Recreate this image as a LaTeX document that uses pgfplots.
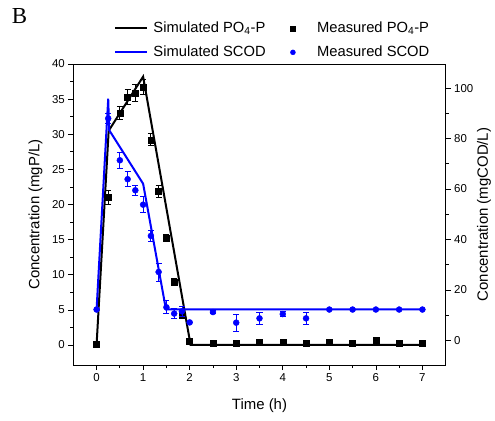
\documentclass[border=0pt]{standalone}
\usepackage{pgfplots}
\pgfplotsset{compat=1.18}
\usepackage{pgfplotstable}
\usepackage{fontspec}
\setmainfont{Liberation Sans}
\newfontfamily\serifB{Liberation Serif}
\definecolor{pblue}{RGB}{0,0,255}

\pgfplotstableread{
x y e
0 0.1 0
0.25 21.0 1.0
0.5 33.0 0.9
0.667 35.3 1.05
0.833 35.9 1.2
1.0 36.7 1.05
1.167 29.2 0.85
1.333 21.9 0.85
1.5 15.2 0.5
1.667 9.0 0.5
1.833 4.3 0.4
2.0 0.5 0
2.5 0.25 0
3 0.2 0
3.5 0.35 0.1
4 0.35 0.1
4.5 0.3 0.1
5 0.45 0.1
5.5 0.25 0
6 0.7 0.1
6.5 0.25 0
7 0.2 0
}\measP

\pgfplotstableread{
x y e
0 12.2 0
0.25 88.0 2
0.5 71.4 3.1
0.667 63.9 3.0
0.833 59.5 2.1
1.0 53.8 3.2
1.167 41.4 2.3
1.333 27.1 3.6
1.5 13.1 2.6
1.667 10.6 2.1
1.833 11.5 2.0
2.0 7.1 0
2.5 11.2 0.5
3 7.0 3.4
3.5 8.7 2.3
4 10.4 1
4.5 8.7 2.3
5 12.2 0
5.5 12.2 0
6 12.2 0
6.5 12.2 0
7 12.2 0
}\measC

\pgfplotstableread{
x y
0 0
0.26 30.5
1.0 38.2
2.02 0
7 0
}\simP

\pgfplotstableread{
x y
0 12.2
0.25 95.8
0.27 83.4
1.0 62.1
1.49 12.3
7 12.3
}\simC

\pgfplotsset{
  common/.style={
    scale only axis, width=372.4bp, height=301bp,
    xmin=-0.5, xmax=7.5,
    tick align=outside,
    major tick length=5bp, minor tick length=3bp,
    every tick/.style={black, line width=0.7bp},
    axis line style={black, line width=0.8bp},
    tick label style={font=\fontsize{11.5}{13}\selectfont},
    label style={font=\fontsize{15}{17}\selectfont},
    /pgf/number format/assume math mode=true,
    clip=false,
  },
  legend image code/.code={\path (0bp,0bp) (32bp,0bp);\draw[mark repeat=2,mark phase=2,#1] plot coordinates {(0bp,0bp) (16bp,0bp) (32bp,0bp)};},
}

\begin{document}
\begin{tikzpicture}
\path[use as bounding box] (-73.3bp,-56bp) rectangle (421.7bp,365bp);
\begin{axis}[common,
  ymin=-2.85, ymax=40,
  xtick={0,...,7}, minor x tick num=1,
  ytick={0,5,...,40}, minor y tick num=1,
  xtick pos=left, ytick pos=left,
  xlabel={Time (h)},
  ylabel={Concentration (mgP/L)},
  xlabel style={at={(axis description cs:0.5,0)}, anchor=center, yshift=-41bp},
  ylabel style={at={(axis description cs:-0.1015,0.5)}, anchor=center},
]
\addplot[black, only marks, mark=square*, mark size=3bp,
  error bars/.cd, y dir=both, y explicit,
  error bar style={line width=0.8bp, black},
  error mark options={rotate=90, mark size=3bp, line width=0.8bp, black}]
  table[x=x, y=y, y error=e] {\measP};
\addplot[black, line width=2bp, mark=none] table[x=x,y=y] {\simP};
\end{axis}
\begin{axis}[common,
  ymin=-9.8, ymax=109.6,
  axis x line=none, axis y line*=right,
  ytick={0,20,...,100}, minor y tick num=1,
  ylabel={Concentration (mgCOD/L)},
  ylabel style={at={(axis description cs:1.1029,0.5)}, anchor=center, rotate=0},
  legend columns=2,
  legend cell align=left,
  legend style={at={(axis description cs:0.11,1.149)}, anchor=north west,
    draw=none, fill=none, font=\fontsize{14.8}{17}\selectfont,
    inner sep=0pt, column sep=5bp, row sep=6bp,
    nodes={text height=11bp, text depth=3bp, inner ysep=2bp, inner xsep=0pt}},
]
\addlegendimage{black, line width=2bp}
\addlegendentry{Simulated PO\textsubscript{4}-P\rule{6bp}{0pt}}
\addlegendimage{black, only marks, mark=square*, mark size=2.5bp}
\addlegendentry{\rule{3bp}{0pt}Measured PO\textsubscript{4}-P}
\addlegendimage{pblue, line width=2bp}
\addlegendentry{Simulated SCOD\rule{6bp}{0pt}}
\addlegendimage{pblue, only marks, mark=*, mark size=2.5bp}
\addlegendentry{\rule{3bp}{0pt}Measured SCOD}
\addplot[forget plot, pblue, only marks, mark=*, mark size=3bp,
  error bars/.cd, y dir=both, y explicit,
  error bar style={line width=0.8bp, pblue},
  error mark options={rotate=90, mark size=3bp, line width=0.8bp, pblue}]
  table[x=x, y=y, y error=e] {\measC};
\addplot[forget plot, pblue, line width=2bp, mark=none] table[x=x,y=y] {\simC};
\end{axis}
\node[font=\serifB\fontsize{23}{25}\selectfont] at (-53.8bp,348.5bp) {B};
\end{tikzpicture}
\end{document}
